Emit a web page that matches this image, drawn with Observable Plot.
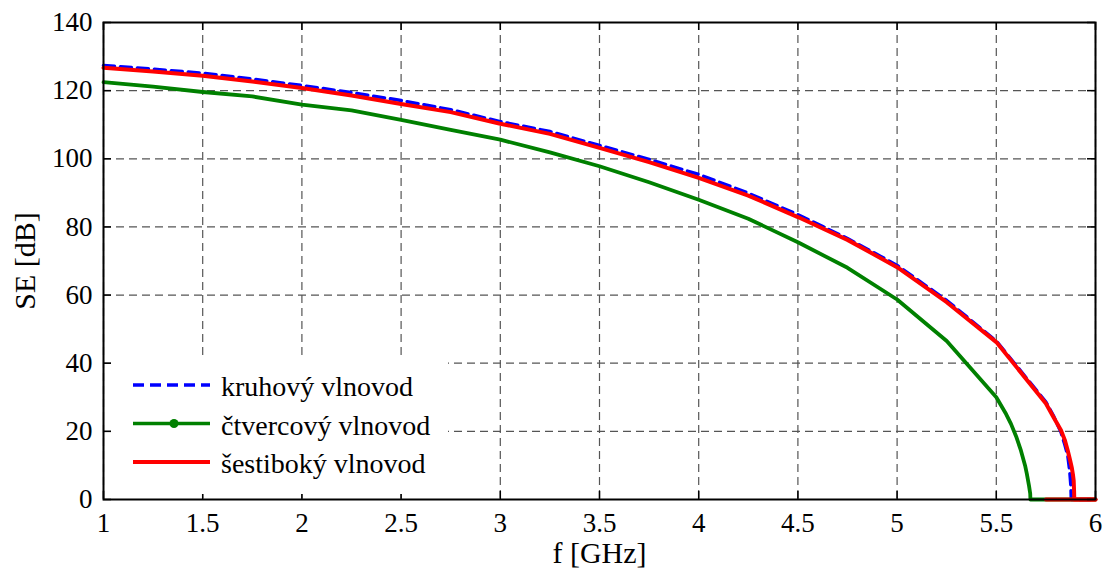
<!DOCTYPE html>
<html>
<head>
<meta charset="utf-8">
<script src="https://cdn.jsdelivr.net/npm/d3@7"></script>
<script src="https://cdn.jsdelivr.net/npm/@observablehq/plot@0.6"></script>
<style>
  body { margin: 0; background: #fff; }
  #chart { position: relative; width: 1108px; height: 574px; }
  #legend { position: absolute; left: 112px; top: 357px; width: 336px; height: 137px; background: #fff; }
</style>
</head>
<body>
<div id="chart"></div>
<script>
// ---- data ----
const xTicks = [1, 1.5, 2, 2.5, 3, 3.5, 4, 4.5, 5, 5.5, 6];
const yTicks = [0, 20, 40, 60, 80, 100, 120, 140];
const xTickLabels = ["1", "1.5", "2", "2.5", "3", "3.5", "4", "4.5", "5", "5.5", "6"];
const yTickLabels = ["0", "20", "40", "60", "80", "100", "120", "140"];

const seriesNames = ["kruhový vlnovod", "čtvercový vlnovod", "šestiboký vlnovod"];

// kruhový vlnovod (blue dashed)
const fKruh  = [1, 1.25, 1.5, 1.75, 2, 2.25, 2.5, 2.75, 3, 3.25, 3.5, 3.75, 4, 4.25, 4.5, 4.75, 5, 5.25, 5.5, 5.75, 5.79, 5.826, 5.845, 5.86, 5.87, 5.876, 5.878, 6];
const seKruh = [127.4, 126.3, 125.1, 123.4, 121.5, 119.4, 117.1, 114.4, 110.9, 108.0, 103.9, 99.8, 95.4, 89.9, 83.6, 76.6, 68.7, 58.4, 46.5, 28.6, 24.3, 19.8, 16.2, 13.0, 8.5, 4.0, 0, 0];

// čtvercový vlnovod (green)
const fCtv  = [1, 1.25, 1.5, 1.75, 2, 2.25, 2.5, 2.75, 3, 3.25, 3.5, 3.75, 4, 4.25, 4.5, 4.75, 5, 5.25, 5.5, 5.55, 5.574, 5.6, 5.624, 5.645, 5.654, 5.665, 5.671, 5.672, 6];
const seCtv = [122.5, 121.2, 119.6, 118.3, 115.9, 114.2, 111.4, 108.5, 105.6, 101.9, 97.8, 93.1, 88.0, 82.4, 75.5, 68.0, 58.7, 46.5, 30.0, 25.0, 22.2, 18.5, 14.4, 10.0, 7.5, 4.0, 1.7, 0, 0];

// šestiboký vlnovod (red)
const fSest  = [1, 1.25, 1.5, 1.75, 2, 2.25, 2.5, 2.75, 3, 3.25, 3.5, 3.75, 4, 4.25, 4.5, 4.75, 5, 5.25, 5.5, 5.75, 5.79, 5.826, 5.845, 5.86, 5.872, 5.88, 5.887, 5.89, 5.892, 5.893, 6];
const seSest = [126.7, 125.6, 124.4, 122.7, 120.8, 118.6, 116.1, 113.7, 110.3, 107.3, 103.2, 99.0, 94.4, 89.2, 82.9, 76.2, 68.2, 57.9, 46.2, 28.2, 24.0, 20.3, 17.5, 14.4, 11.5, 9.5, 7.0, 5.6, 2.5, 0, 0];
// red zero-level segment visible from 5.75 GHz onwards
const fSestFloor  = [5.75, 6];
const seSestFloor = [0, 0];

const colors = ["#0000ff", "#008000", "#ff0000"];

// ---- layout ----
const W = 1108, H = 574, mL = 103, mR = 13, mT = 22, mB = 75;
const innerH = H - mT - mB, innerW = W - mL - mR;
const font = "'Liberation Serif', 'Times New Roman', Times, serif";

const rows = (fs, ses, name) => fs.map((f, i) => ({f, se: ses[i], name}));
const kruh = rows(fKruh, seKruh, seriesNames[0]);
const ctv = rows(fCtv, seCtv, seriesNames[1]);
const sest = rows(fSest, seSest, seriesNames[2]);
const sestFloor = rows(fSestFloor, seSestFloor, seriesNames[2]);

const grid = {stroke: "#555", strokeWidth: 1.2, strokeDasharray: "8,5", strokeOpacity: 1};
const tickStyle = {stroke: "#000", strokeWidth: 1.5, strokeOpacity: 1};

const plot = Plot.plot({
  width: W, height: H,
  marginLeft: mL, marginRight: mR, marginTop: mT, marginBottom: mB,
  style: {fontFamily: font, fontSize: "27px", color: "#000", background: "#fff", overflow: "visible"},
  x: {domain: [1, 6], ticks: xTicks, tickFormat: (d) => xTickLabels[xTicks.indexOf(d)], tickSize: 0, tickPadding: 13, label: null},
  y: {domain: [0, 140], ticks: yTicks, tickFormat: (d) => yTickLabels[yTicks.indexOf(d)], tickSize: 0, tickPadding: 11, label: null},
  marks: [
    Plot.ruleX(xTicks, {x: d => d, ...grid}),
    Plot.ruleY(yTicks, {y: d => d, ...grid}),
    Plot.line(kruh, {x: "f", y: "se", stroke: colors[0], strokeWidth: 3.5, strokeDasharray: "11,6"}),
    Plot.line(ctv, {x: "f", y: "se", stroke: colors[1], strokeWidth: 3.8}),
    Plot.line(sest, {x: "f", y: "se", stroke: colors[2], strokeWidth: 4}),
    Plot.line(sestFloor, {x: "f", y: "se", stroke: colors[2], strokeWidth: 4}),
    Plot.tickX(xTicks, {x: d => d, ...tickStyle, insetTop: innerH - 8}),
    Plot.tickX(xTicks, {x: d => d, ...tickStyle, insetBottom: innerH - 8}),
    Plot.tickY(yTicks, {y: d => d, ...tickStyle, insetRight: innerW - 8}),
    Plot.tickY(yTicks, {y: d => d, ...tickStyle, insetLeft: innerW - 8}),
    Plot.frame({stroke: "#000", strokeWidth: 2}),
    Plot.text(["f [GHz]"], {text: d => d, frameAnchor: "bottom", textAnchor: "middle", lineAnchor: "middle", dy: 54, fontSize: 30, fill: "#000"}),
    Plot.text(["SE [dB]"], {text: d => d, frameAnchor: "left", textAnchor: "middle", lineAnchor: "middle", rotate: -90, dx: -78, fontSize: 30, fill: "#000"})
  ]
});

const chart = document.getElementById("chart");
chart.appendChild(plot);

// ---- legend (overlay with white background) ----
const legend = document.createElement("div");
legend.id = "legend";
chart.appendChild(legend);
const lsvg = d3.select(legend).append("svg").attr("width", 336).attr("height", 137)
  .style("font-family", font);
const rowY = [28, 66.5, 105];
seriesNames.forEach((name, i) => {
  const g = lsvg.append("g").attr("transform", `translate(0,${rowY[i]})`);
  const ln = g.append("line").attr("x1", 21).attr("x2", 98).attr("y1", 0).attr("y2", 0)
    .attr("stroke", colors[i]).attr("stroke-width", i === 2 ? 4 : 3.6);
  if (i === 0) ln.attr("stroke-dasharray", "11,6");
  if (i === 1) g.append("circle").attr("cx", 62).attr("cy", 0).attr("r", 4.5).attr("fill", colors[1]);
  g.append("text").attr("x", 109).attr("y", 11).attr("font-size", 28).attr("fill", "#000").text(name);
});
</script>
</body>
</html>
